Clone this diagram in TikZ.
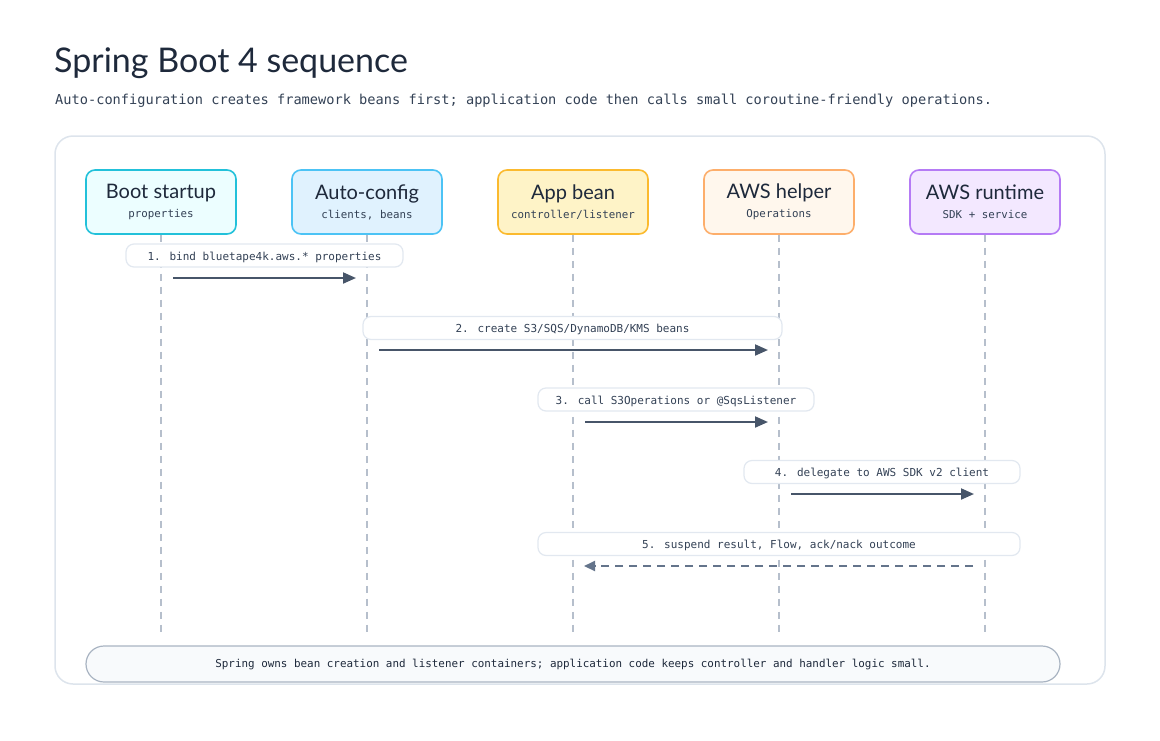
\documentclass[tikz,border=0pt]{standalone}
\usepackage{fontspec}
\setmainfont{Lato}
\newfontfamily\handfont{Lato}
\newfontfamily\monofont{DejaVu Sans Mono}
\usetikzlibrary{arrows.meta}
\definecolor{ink}{HTML}{1E293B}
\definecolor{subink}{HTML}{334155}
\definecolor{frame}{HTML}{DDE4EC}
\definecolor{lifec}{HTML}{B6BFCC}
\definecolor{arrowc}{HTML}{475569}
\definecolor{dasharrowc}{HTML}{64748B}
\definecolor{lblborder}{HTML}{E2E8F0}
\definecolor{footfill}{HTML}{F8FAFC}
\definecolor{footborder}{HTML}{A9B4C2}
\definecolor{cyanB}{HTML}{22C1DA}\definecolor{cyanF}{HTML}{ECFEFF}
\definecolor{skyB}{HTML}{4CC3F5}\definecolor{skyF}{HTML}{E0F2FE}
\definecolor{ambB}{HTML}{FBBA2E}\definecolor{ambF}{HTML}{FEF3C7}
\definecolor{orB}{HTML}{FDAE6B}\definecolor{orF}{HTML}{FFF7ED}
\definecolor{puB}{HTML}{B57BF5}\definecolor{puF}{HTML}{F3E8FF}
\tikzset{
  partbox/.style={rectangle, rounded corners=9pt, line width=1.6pt, minimum width=150pt, minimum height=64pt, align=center, inner sep=0pt, text=ink},
  lifeline/.style={lifec, line width=1.5pt, dash pattern=on 7pt off 6pt},
  msglabel/.style={rectangle, rounded corners=8pt, draw=lblborder, fill=white, line width=1.2pt, minimum height=23pt, inner sep=0pt, text height=9pt, text depth=0pt, text=subink, font=\monofont\fontsize{11}{13}\selectfont},
  msgarrow/.style={arrowc, line width=2pt, -{Triangle[length=13pt,width=11pt]}},
  retarrow/.style={dasharrowc, line width=2pt, dash pattern=on 8pt off 6pt, -{Triangle[length=11pt,width=10pt]}},
}
\newcommand{\parttext}[2]{{\handfont\fontsize{20}{22}\selectfont #1}\\[7pt]{\monofont\fontsize{10.8}{12}\selectfont\color{subink}#2}}
\begin{document}
\begin{tikzpicture}[x=1pt,y=-1pt]
\useasboundingbox (0,0) rectangle (1160,740);
% title
\node[anchor=base west, inner sep=0pt, text=ink, font=\handfont\fontsize{34}{36}\selectfont] (title) at (54,72) {Spring Boot 4 sequence};
\node[anchor=base west, inner sep=0pt, text=subink, font=\monofont\fontsize{13.65}{15}\selectfont] (subtitle) at (55,104) {Auto-configuration creates framework beans first; application code then calls small coroutine-friendly operations.};
% frame
\node[draw=frame, line width=1.5pt, rounded corners=18pt, fill=white, minimum width=1050pt, minimum height=548pt, inner sep=0pt] (frame) at (580,410) {};
% participants
\node[partbox, draw=cyanB, fill=cyanF] (p1) at (161,202) {\parttext{Boot startup}{properties}};
\node[partbox, draw=skyB, fill=skyF] (p2) at (367,202) {\parttext{Auto-config}{clients, beans}};
\node[partbox, draw=ambB, fill=ambF] (p3) at (573,202) {\parttext{App bean}{controller/listener}};
\node[partbox, draw=orB, fill=orF] (p4) at (779,202) {\parttext{AWS helper}{Operations}};
\node[partbox, draw=puB, fill=puF] (p5) at (985,202) {\parttext{AWS runtime}{SDK + service}};
% lifelines
\foreach \i/\x in {1/161,2/367,3/573,4/779,5/985}{
  \coordinate (e\i) at (\x,634);
  \draw[lifeline] (p\i.south) -- (e\i);
}
% messages
\node[msglabel, minimum width=277pt] (l1) at (264.5,255.5) {1. bind bluetape4k.aws.* properties};
\coordinate (a1s) at (173,278); \coordinate (a1e) at (356,278);
\draw[msgarrow] (a1s) -- (a1e);

\node[msglabel, minimum width=419pt] (l2) at (572.5,328) {2. create S3/SQS/DynamoDB/KMS beans};
\coordinate (a2s) at (379,350); \coordinate (a2e) at (768,350);
\draw[msgarrow] (a2s) -- (a2e);

\node[msglabel, minimum width=276pt] (l3) at (676,399.5) {3. call S3Operations or @SqsListener};
\coordinate (a3s) at (585,422); \coordinate (a3e) at (768,422);
\draw[msgarrow] (a3s) -- (a3e);

\node[msglabel, minimum width=276pt] (l4) at (882,472) {4. delegate to AWS SDK v2 client};
\coordinate (a4s) at (791,494); \coordinate (a4e) at (974,494);
\draw[msgarrow] (a4s) -- (a4e);

\node[msglabel, minimum width=482pt] (l5) at (779,544) {5. suspend result, Flow, ack/nack outcome};
\coordinate (a5s) at (973,566); \coordinate (a5e) at (584,566);
\draw[retarrow] (a5s) -- (a5e);
% footer
\node[draw=footborder, fill=footfill, line width=1.2pt, rounded corners=18pt, minimum width=974pt, minimum height=36pt, inner sep=0pt, text=ink, font=\monofont\fontsize{10.9}{12}\selectfont] (footer) at (573,664) {Spring owns bean creation and listener containers; application code keeps controller and handler logic small.};
\end{tikzpicture}
\end{document}
